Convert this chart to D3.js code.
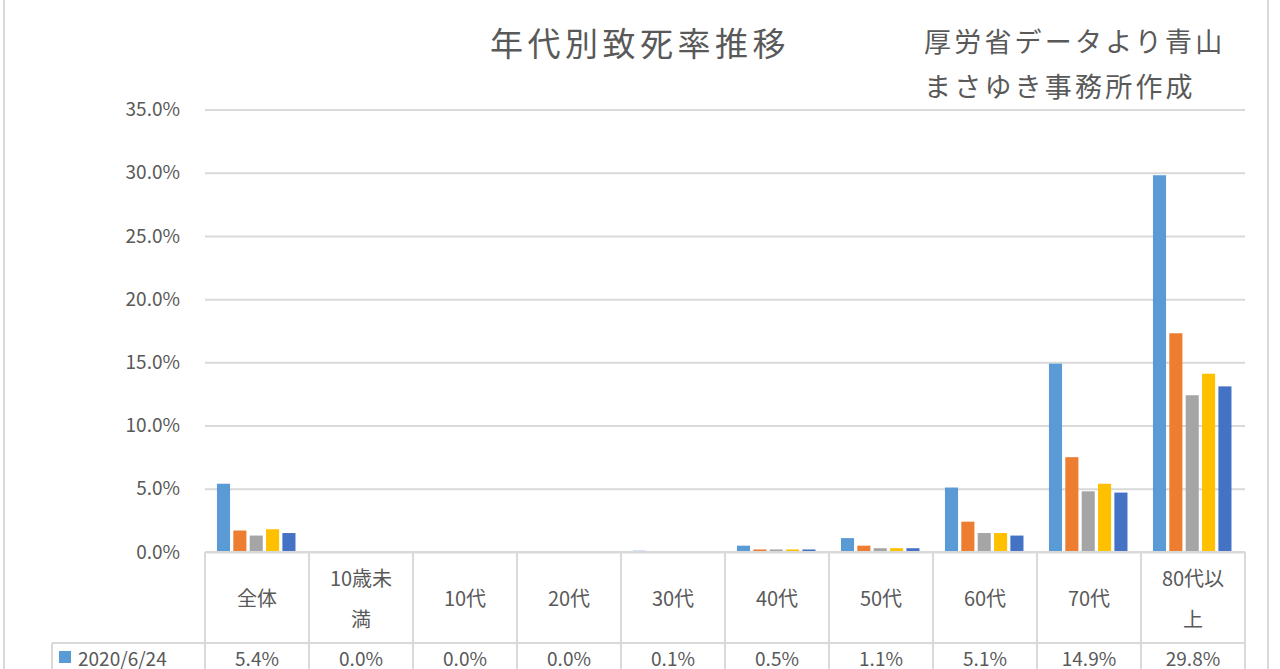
<!DOCTYPE html>
<html><head><meta charset="utf-8">
<script src="https://cdn.jsdelivr.net/npm/d3@7"></script>
<style>
html,body{margin:0;padding:0;background:#fff;overflow:hidden;}
svg{display:block;font-family:"Noto Sans CJK JP","Noto Sans",sans-serif;}
</style></head>
<body>
<svg id="chart" width="1280" height="669"></svg>
<script>
const titleText = "年代別致死率推移";
const noteLines = ["厚労省データより青山", "まさゆき事務所作成"];
const categories = ["全体", "10歳未満", "10代", "20代", "30代", "40代", "50代", "60代", "70代", "80代以上"];
const categoryLines = [["全体"], ["10歳未", "満"], ["10代"], ["20代"], ["30代"], ["40代"], ["50代"], ["60代"], ["70代"], ["80代以", "上"]];
const seriesNames = ["2020/6/24", "s2", "s3", "s4", "s5"];
const seriesColors = ["#5b9bd5", "#ed7d31", "#a5a5a5", "#ffc000", "#4472c4"];
const s1 = [5.4, 0.0, 0.0, 0.0, 0.1, 0.5, 1.1, 5.1, 14.9, 29.8];
const s2 = [1.7, 0.0, 0.0, 0.0, 0.0, 0.2, 0.5, 2.4, 7.5, 17.3];
const s3 = [1.3, 0.0, 0.0, 0.0, 0.0, 0.2, 0.3, 1.5, 4.8, 12.4];
const s4 = [1.8, 0.0, 0.0, 0.0, 0.0, 0.2, 0.3, 1.5, 5.4, 14.1];
const s5 = [1.5, 0.0, 0.0, 0.0, 0.0, 0.2, 0.3, 1.3, 4.7, 13.1];
const seriesValues = [s1, s2, s3, s4, s5];
const yTicks = [0, 5, 10, 15, 20, 25, 30, 35];

const svg = d3.select("#chart");
const textColor = "#595959";
const gridColor = "#d9d9d9";

// chart frame
svg.append("line").attr("x1", 4).attr("x2", 4).attr("y1", 0).attr("y2", 669)
  .attr("stroke", gridColor).attr("stroke-width", 2);
svg.append("line").attr("x1", 1268).attr("x2", 1268).attr("y1", 0).attr("y2", 669)
  .attr("stroke", gridColor).attr("stroke-width", 2);

const x0 = d3.scaleBand().domain(categories).range([205, 1245]).padding(0);
const bw = x0.bandwidth();
const x1 = d3.scaleBand().domain(seriesNames).range([bw * 0.115, bw * 0.87]).paddingInner(0.2);
const y = d3.scaleLinear().domain([0, 35]).range([552, 109.5]);

// gridlines
const yAxis = d3.axisLeft(y).tickValues(yTicks).tickSize(-(1245 - 205)).tickFormat(d => d.toFixed(1) + "%");
const gAxis = svg.append("g").attr("transform", "translate(205,0)").call(yAxis);
gAxis.select(".domain").remove();
gAxis.selectAll(".tick line").attr("stroke", gridColor).attr("stroke-width", 2);
gAxis.selectAll(".tick text").attr("x", -25).attr("fill", textColor)
  .style("font-size", "19px").style("font-family", "'Noto Sans CJK JP',sans-serif");

// bars
const groups = svg.append("g").selectAll("g").data(categories).join("g")
  .attr("transform", d => `translate(${x0(d)},0)`);
groups.selectAll("rect").data((c, ci) => seriesNames.map((s, si) => ({s, si, v: seriesValues[si][ci]})))
  .join("rect")
  .attr("x", d => x1(d.s))
  .attr("width", x1.bandwidth())
  .attr("y", d => y(d.v))
  .attr("height", d => y(0) - y(d.v))
  .attr("fill", d => seriesColors[d.si]);

// table
const tTop = 552, tHead = 643, tBottom = 700;
const tbl = svg.append("g");
const boundaries = categories.map(c => x0(c)).concat([x0.range()[1]]);
tbl.selectAll("line.v").data(boundaries).join("line")
  .attr("x1", d => d).attr("x2", d => d).attr("y1", tTop).attr("y2", tBottom)
  .attr("stroke", gridColor).attr("stroke-width", 2);
tbl.append("line").attr("x1", 205).attr("x2", 1245).attr("y1", tTop).attr("y2", tTop)
  .attr("stroke", gridColor).attr("stroke-width", 2);
tbl.append("line").attr("x1", 52).attr("x2", 1245).attr("y1", tHead).attr("y2", tHead)
  .attr("stroke", gridColor).attr("stroke-width", 2);
tbl.append("line").attr("x1", 52).attr("x2", 52).attr("y1", tHead).attr("y2", tBottom)
  .attr("stroke", gridColor).attr("stroke-width", 2);

// category labels
categories.forEach((c, i) => {
  const lines = categoryLines[i];
  const cx = x0(c) + bw / 2;
  const cy = (tTop + tHead) / 2;
  const lh = 41;
  lines.forEach((ln, j) => {
    tbl.append("text").attr("x", cx).attr("y", cy + (j - (lines.length - 1) / 2) * lh)
      .attr("text-anchor", "middle").attr("dominant-baseline", "central")
      .attr("fill", textColor).style("font-size", "20px").text(ln);
  });
});

// first data row
tbl.append("rect").attr("x", 59).attr("y", 651).attr("width", 12).attr("height", 12).attr("fill", seriesColors[0]);
tbl.append("text").attr("x", 78).attr("y", 657).attr("dominant-baseline", "central")
  .attr("fill", textColor).style("font-size", "19px").text(seriesNames[0]);
categories.forEach((c, i) => {
  tbl.append("text").attr("x", x0(c) + bw / 2).attr("y", 657)
    .attr("text-anchor", "middle").attr("dominant-baseline", "central")
    .attr("fill", textColor).style("font-size", "19px").text(s1[i].toFixed(1) + "%");
});

// title and note
svg.append("text").attr("x", 640).attr("y", 42).attr("text-anchor", "middle")
  .attr("dominant-baseline", "central").attr("fill", textColor)
  .style("font-size", "33px").style("letter-spacing", "4.5px").text(titleText);
noteLines.forEach((t, i) => {
  svg.append("text").attr("x", 924).attr("y", 40 + i * 45).attr("dominant-baseline", "central")
    .attr("fill", textColor).style("font-size", "27px").style("letter-spacing", "3.2px").text(t);
});
</script>
</body></html>
